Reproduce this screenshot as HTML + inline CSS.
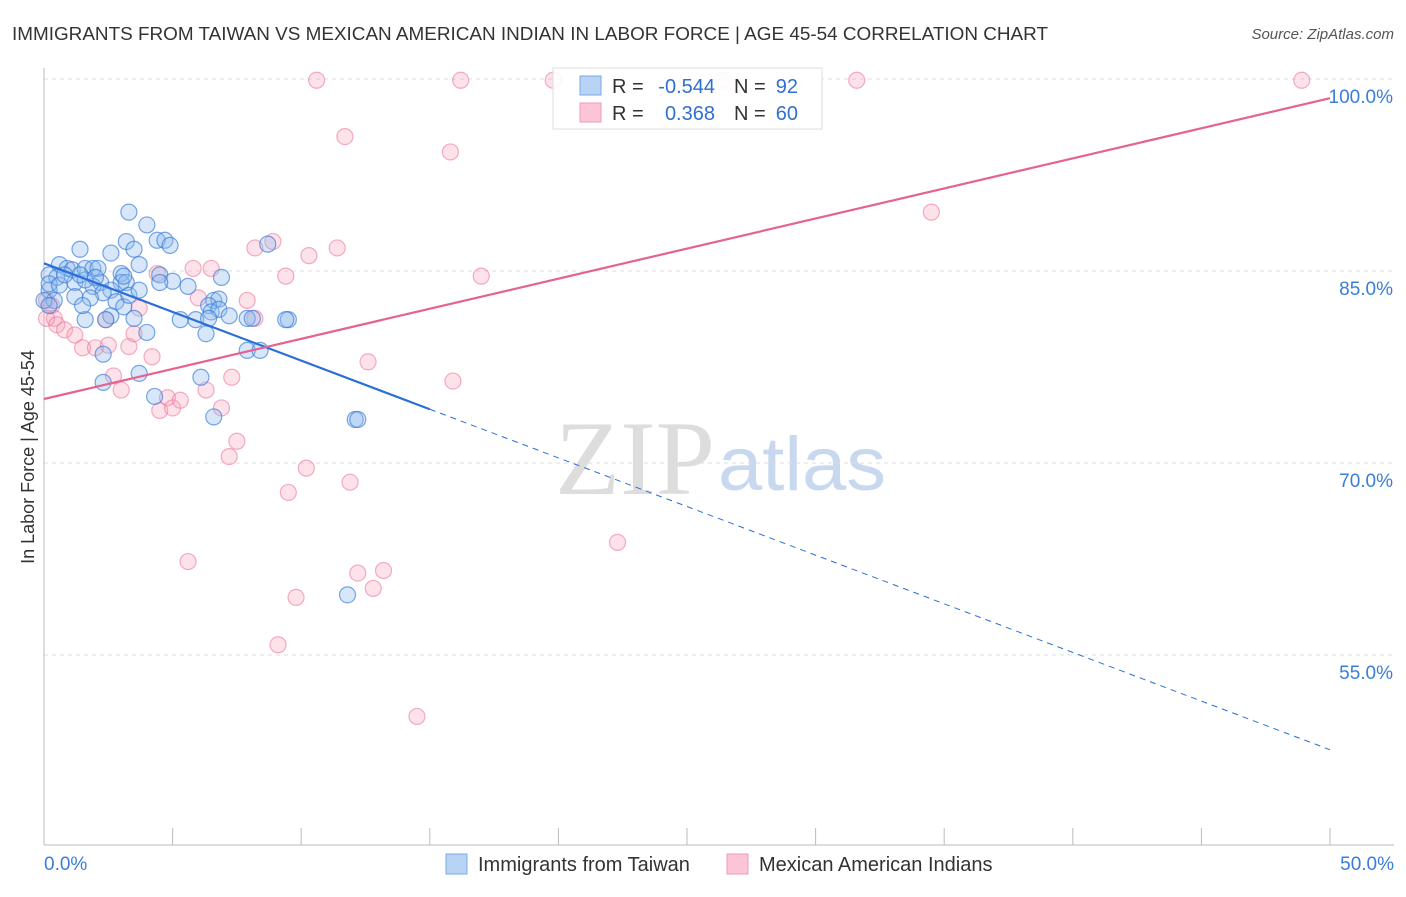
<!DOCTYPE html>
<html><head><meta charset="utf-8"><style>
html,body{margin:0;padding:0;background:#fff;}
body{width:1406px;height:892px;overflow:hidden;font-family:"Liberation Sans",sans-serif;}
</style></head><body>
<svg id="chart" width="1406" height="892" xmlns="http://www.w3.org/2000/svg" font-family="Liberation Sans, sans-serif">
<text x="12" y="40" font-size="18.5" fill="#333" textLength="1036" lengthAdjust="spacingAndGlyphs">IMMIGRANTS FROM TAIWAN VS MEXICAN AMERICAN INDIAN IN LABOR FORCE | AGE 45-54 CORRELATION CHART</text>
<text x="1394" y="39" font-size="15" fill="#555" font-style="italic" text-anchor="end">Source: ZipAtlas.com</text>
<text transform="translate(34,457) rotate(-90)" font-size="18" fill="#333" text-anchor="middle">In Labor Force | Age 45-54</text>
<g>
<text x="635" y="494" font-size="106" fill="#ddd" font-family="Liberation Serif, serif" text-anchor="middle" textLength="160" lengthAdjust="spacingAndGlyphs">ZIP</text>
<text x="802" y="490" font-size="76" fill="#c8d8ef" text-anchor="middle" textLength="168" lengthAdjust="spacingAndGlyphs">atlas</text>
</g>
<g id="grid"></g>
<g id="axes"></g>
<g id="marks"></g>
<g>
<rect x="553" y="68" width="269" height="61" fill="#fff" fill-opacity="0.9" stroke="#ddd"/>
<rect x="580" y="76" width="21" height="19" fill="#b9d3f5" stroke="#7aa9e8"/>
<rect x="580" y="103" width="21" height="19" fill="#fcc5d6" stroke="#f09ab5"/>
<text x="612" y="93" font-size="20" fill="#333">R =</text>
<text x="715" y="93" font-size="20" fill="#2f6fd1" text-anchor="end">-0.544</text>
<text x="734" y="93" font-size="20" fill="#333">N =</text>
<text x="798" y="93" font-size="20" fill="#2f6fd1" text-anchor="end">92</text>
<text x="612" y="120" font-size="20" fill="#333">R =</text>
<text x="715" y="120" font-size="20" fill="#2f6fd1" text-anchor="end">0.368</text>
<text x="734" y="120" font-size="20" fill="#333">N =</text>
<text x="798" y="120" font-size="20" fill="#2f6fd1" text-anchor="end">60</text>
</g>
<g>
<rect x="446" y="854" width="21" height="20" fill="#b9d3f5" stroke="#7aa9e8"/>
<text x="478" y="871" font-size="20" fill="#333">Immigrants from Taiwan</text>
<rect x="727" y="854" width="21" height="20" fill="#fcc5d6" stroke="#f09ab5"/>
<text x="759" y="871" font-size="20" fill="#333">Mexican American Indians</text>
</g>
</svg>
<script>
const blueX=[3.3,4.0,3.2,4.4,4.7,4.9,3.5,1.4,2.6,8.7,3.7,0.6,0.9,1.1,1.6,1.9,2.1,3.0,4.5,5.0,5.6,6.9,0.2,0.5,3.0,3.2,1.2,2.2,1.9,2.6,2.3,0.2,0.4,1.2,1.8,2.8,3.1,6.6,6.8,6.4,6.5,6.8,7.2,5.3,5.9,6.4,7.9,8.1,9.5,9.4,2.6,3.5,2.4,1.6,4.0,6.3,7.9,8.4,2.3,3.7,2.3,6.1,4.3,6.6,12.1,12.2,11.8,0.2,0.6,0.0,0.2,1.6,1.4,0.8,2.0,3.3,3.7,4.5,3.1,1.5];
const blueY=[89.6,88.6,87.3,87.4,87.4,87.0,86.7,86.7,86.4,87.1,85.5,85.5,85.2,85.1,85.2,85.2,85.2,84.8,84.7,84.2,83.8,84.5,84.7,84.5,84.1,84.1,84.1,84.1,83.8,83.5,83.3,83.5,82.7,83.0,82.9,82.6,82.2,82.7,82.8,82.3,81.8,82.0,81.5,81.2,81.2,81.3,81.3,81.3,81.2,81.2,81.5,81.3,81.2,81.2,80.2,80.1,78.8,78.8,78.5,77.0,76.3,76.7,75.2,73.6,73.4,73.4,59.7,84.0,83.9,82.7,82.3,84.3,84.7,84.7,84.5,83.1,83.5,84.1,84.6,82.3];
const pinkX=[10.6,16.2,19.8,26.4,31.6,48.9,11.7,15.8,34.5,8.2,8.9,11.4,10.3,17.0,9.4,6.5,5.8,4.4,6.0,7.9,8.2,0.1,0.3,0.4,0.1,0.5,0.8,1.2,1.5,2.0,2.5,2.4,3.3,3.5,3.7,4.2,2.7,3.0,4.8,4.5,5.0,5.3,6.9,6.3,7.3,12.6,15.9,7.5,7.2,10.2,9.5,11.9,22.3,5.6,12.2,13.2,12.8,9.8,9.1,14.5];
const pinkY=[99.9,99.9,99.9,99.9,99.9,99.9,95.5,94.3,89.6,86.8,87.3,86.8,86.2,84.6,84.6,85.2,85.2,84.8,82.9,82.7,81.3,82.7,82.3,81.3,81.3,80.8,80.4,80.0,79.0,79.0,79.2,81.2,79.1,80.1,82.1,78.3,76.8,75.7,75.1,74.1,74.3,74.9,74.3,75.7,76.7,77.9,76.4,71.7,70.5,69.6,67.7,68.5,63.8,62.3,61.4,61.6,60.2,59.5,55.8,50.2];
const yTicks=[100,85,70,55];
const yTickLabels=["100.0%","85.0%","70.0%","55.0%"];
const xTicks=[0,5,10,15,20,25,30,35,40,45,50];
const blueTrend=[85.6,47.6];
const blueSolidEnd=15;
const pinkTrend=[75.0,98.5];

const NS="http://www.w3.org/2000/svg";
const X=v=>44+v*(1286/50);
const Y=v=>79+(100-v)*12.8;
function mk(tag,attrs,parent){const e=document.createElementNS(NS,tag);for(const k in attrs)e.setAttribute(k,attrs[k]);parent.appendChild(e);return e;}
const grid=document.getElementById('grid'),axes=document.getElementById('axes'),marks=document.getElementById('marks');
yTicks.forEach((t,i)=>{
  const l=mk('line',{x1:44,x2:1394,y1:Y(t),y2:Y(t),stroke:'#ddd','stroke-dasharray':'4,4'},grid);
  
  
  const tx=mk('text',{x:1393,y:Y(t)+24,'font-size':19,fill:'#3b7dd8','text-anchor':'end'},axes);
  tx.textContent=yTickLabels[i];
  
  
});
const ax=mk('line',{x1:44,x2:44,y1:68,y2:845,stroke:'#bbb'},axes);


const bx=mk('line',{x1:44,x2:1394,y1:845,y2:845,stroke:'#bbb'},axes);


xTicks.forEach(t=>{
  const l=mk('line',{x1:X(t),x2:X(t),y1:828,y2:845,stroke:'#bbb'},axes);
  
  
});
const xl0=mk('text',{x:44,y:870,'font-size':19,fill:'#3b7dd8'},axes);xl0.textContent='0.0%';


const xl1=mk('text',{x:1394,y:870,'font-size':19,fill:'#3b7dd8','text-anchor':'end'},axes);xl1.textContent='50.0%';



pinkX.forEach((v,i)=>{
  const c=mk('circle',{cx:X(v),cy:Y(pinkY[i]),r:8,fill:'rgba(248,160,185,0.3)',stroke:'rgba(236,120,155,0.6)','stroke-width':1.2},marks);
  
  
});
blueX.forEach((v,i)=>{
  const c=mk('circle',{cx:X(v),cy:Y(blueY[i]),r:8,fill:'rgba(140,185,238,0.35)',stroke:'rgba(50,120,215,0.65)','stroke-width':1.2},marks);
  
  
});
const bAt=x=>blueTrend[0]+(blueTrend[1]-blueTrend[0])*x/50;
const b1=mk('line',{x1:X(0),y1:Y(bAt(0)),x2:X(blueSolidEnd),y2:Y(bAt(blueSolidEnd)),stroke:'#2a6fd6','stroke-width':2.2},marks);


const b2=mk('line',{x1:X(blueSolidEnd),y1:Y(bAt(blueSolidEnd)),x2:X(50),y2:Y(bAt(50)),stroke:'#2a6fd6','stroke-width':1,'stroke-dasharray':'6,5'},marks);


const p1=mk('line',{x1:X(0),y1:Y(pinkTrend[0]),x2:X(50),y2:Y(pinkTrend[1]),stroke:'#e4638f','stroke-width':2.2},marks);


</script>
</body></html>
